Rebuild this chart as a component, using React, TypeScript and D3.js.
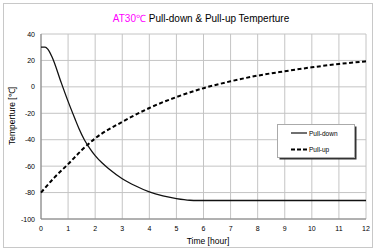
import React from "react";
import * as d3 from "d3";

const hoursDown = [0, 0.15, 0.25, 0.4, 0.75, 1, 1.25, 1.4, 1.6, 1.8, 2, 2.25, 2.5, 3, 3.5, 4, 4.5, 5, 5.5, 5.75, 6, 12];
const pullDown = [30, 30, 28.5, 23, 3, -11, -24, -31.5, -40, -46.5, -52, -57.5, -62, -69.5, -75, -79.5, -82.5, -84.5, -85.8, -86, -86, -86];

const hoursUp = [0, 0.5, 1, 1.5, 2, 3, 4, 5, 6, 7, 8, 9, 10, 11, 12];
const pullUp = [-80, -68.5, -58.5, -48, -39, -26.5, -16, -7.7, -1, 4.2, 8.5, 11.8, 14.8, 17.3, 19.3];

const xTicks = [0, 1, 2, 3, 4, 5, 6, 7, 8, 9, 10, 11, 12];
const yTicks = [40, 20, 0, -20, -40, -60, -80, -100];

const W = 376;
const H = 252;
const font = "'Liberation Sans', Arial, sans-serif";

export default function App() {
  const x = d3.scaleLinear().domain([0, 12]).range([41, 366]);
  const y = d3.scaleLinear().domain([-100, 40]).range([219, 34]);

  const line = d3
    .line<[number, number]>()
    .x((d) => x(d[0]))
    .y((d) => y(d[1]))
    .curve(d3.curveMonotoneX);

  const downPath = line(hoursDown.map((h, i) => [h, pullDown[i]]) as [number, number][]);
  const upPath = line(hoursUp.map((h, i) => [h, pullUp[i]]) as [number, number][]);

  return (
    <svg
      width={W}
      height={H}
      style={{ position: "absolute", left: 0, top: 0, background: "#fff" }}
      fontFamily={font}
    >
      <rect x={3.5} y={3.5} width={369} height={244} fill="#fff" stroke="#c8c8c8" />
      <text x={201} y={22} textAnchor="middle" fontSize={10}>
        <tspan fill="#ff00ff">AT30℃</tspan>
        <tspan fill="#000"> Pull-down &amp; Pull-up Temperture</tspan>
      </text>

      {/* grid */}
      {xTicks.map((t) => (
        <line key={"gx" + t} x1={x(t)} x2={x(t)} y1={y(40)} y2={y(-100)} stroke="#c4c4c4" strokeWidth={1} />
      ))}
      {yTicks.map((t) => (
        <line key={"gy" + t} x1={x(0)} x2={x(12)} y1={y(t)} y2={y(t)} stroke="#c4c4c4" strokeWidth={1} />
      ))}
      <line x1={x(0)} x2={x(0)} y1={y(40)} y2={y(-100)} stroke="#808080" />
      <line x1={x(0)} x2={x(12)} y1={y(-100)} y2={y(-100)} stroke="#808080" />

      {/* tick labels */}
      {yTicks.map((t) => (
        <text key={"ty" + t} x={35} y={y(t) + 2.5} textAnchor="end" fontSize={7} fill="#000">
          {t}
        </text>
      ))}
      {xTicks.map((t) => (
        <text key={"tx" + t} x={x(t)} y={231} textAnchor="middle" fontSize={7} fill="#000">
          {t}
        </text>
      ))}

      <text x={208} y={243.5} textAnchor="middle" fontSize={8.5}>
        Time [hour]
      </text>
      <text transform="translate(15,116) rotate(-90)" textAnchor="middle" fontSize={8.5}>
        Temperture [℃]
      </text>

      <path d={upPath || ""} fill="none" stroke="#000" strokeWidth={2} strokeDasharray="4,2.5" />
      <path d={downPath || ""} fill="none" stroke="#111" strokeWidth={1.3} />

      {/* legend */}
      <rect x={279.5} y={126.5} width={77} height={33} fill="#333" />
      <rect x={277.5} y={124.5} width={77} height={33} fill="#fff" stroke="#aaa" />
      <line x1={291} x2={307} y1={133} y2={133} stroke="#111" strokeWidth={1.2} />
      <text x={309} y={135.5} fontSize={6.5}>
        Pull-down
      </text>
      <line x1={291} x2={307} y1={149.5} y2={149.5} stroke="#000" strokeWidth={2} strokeDasharray="4,2" />
      <text x={309} y={152} fontSize={6.5}>
        Pull-up
      </text>
    </svg>
  );
}
